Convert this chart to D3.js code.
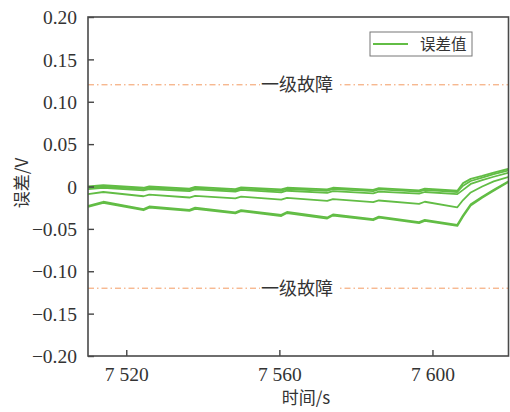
<!DOCTYPE html>
<html>
<head>
<meta charset="utf-8">
<script src="https://cdn.jsdelivr.net/npm/d3@7"></script>
<style>
  body { margin: 0; background: #fff; }
  svg { display: block; }
</style>
</head>
<body>
<div id="chart"></div>
<script>
// Data
const times = [7510, 7514, 7524.5, 7526, 7536.5, 7538, 7548.5, 7550, 7560.5, 7562,
  7572.5, 7574, 7584.5, 7586, 7596.5, 7598, 7606.5, 7608, 7610, 7613, 7616, 7620];

const errA1 = [0.000, 0.0015, -0.0015, 0.000, -0.0025, -0.0005, -0.003, -0.001, -0.0035, -0.0015,
  -0.0035, -0.0015, -0.004, -0.002, -0.0045, -0.0025, -0.005, 0.004, 0.009, 0.0125, 0.0165, 0.021];
const errA2 = [-0.0015, 0.000, -0.003, -0.0015, -0.004, -0.002, -0.0045, -0.0025, -0.005, -0.003,
  -0.005, -0.003, -0.0055, -0.0035, -0.006, -0.004, -0.0065, 0.001, 0.0065, 0.0105, 0.0145, 0.019];
const errB = [-0.003, -0.0015, -0.0045, -0.003, -0.0055, -0.0035, -0.006, -0.004, -0.007, -0.005,
  -0.0075, -0.0055, -0.008, -0.006, -0.0085, -0.0065, -0.009, -0.004, 0.003, 0.0075, 0.0115, 0.0165];
const errC = [-0.009, -0.0065, -0.0115, -0.0095, -0.013, -0.011, -0.014, -0.012, -0.0155, -0.0135,
  -0.017, -0.015, -0.0185, -0.0165, -0.0205, -0.018, -0.0245, -0.016, -0.007, 0.000, 0.006, 0.0115];
const errD1 = [-0.0228, -0.018, -0.0267, -0.0236, -0.0275, -0.025, -0.0305, -0.0278, -0.0335, -0.030,
  -0.0365, -0.033, -0.0385, -0.0355, -0.042, -0.0393, -0.0452, -0.034, -0.021, -0.012, -0.004, 0.0065];
const errD2 = [-0.0240, -0.0193, -0.0280, -0.0249, -0.0288, -0.0263, -0.0318, -0.0291, -0.0348, -0.0313,
  -0.0378, -0.0343, -0.0398, -0.0368, -0.0433, -0.0406, -0.0465, -0.0355, -0.0225, -0.0133, -0.005, 0.0058];

const series = [errA1, errA2, errB, errC, errD1, errD2];

const yTicks = [0.20, 0.15, 0.10, 0.05, 0, -0.05, -0.10, -0.15, -0.20];
const xTicks = [7520, 7560, 7600];
const faultLevels = [0.12, -0.12];
const faultLabel = "一级故障";
const legendLabel = "误差值";

// Layout
const width = 510, height = 412;
const margin = { top: 17, right: 1, bottom: 56, left: 88 };
const green = "#62bd45";
const orange = "#f39a62";
const serif = "'Liberation Serif', 'Times New Roman', serif";
const cjk = "'Noto Sans CJK SC', sans-serif";

const svg = d3.select("#chart")
  .append("svg")
  .attr("width", width)
  .attr("height", height);

const x = d3.scaleLinear()
  .domain([7510, 7620])
  .range([margin.left, width - margin.right]);

const y = d3.scaleLinear()
  .domain([-0.20, 0.20])
  .range([height - margin.bottom, margin.top]);

svg.append("clipPath").attr("id", "plot")
  .append("rect")
  .attr("x", margin.left).attr("y", margin.top)
  .attr("width", x.range()[1] - margin.left)
  .attr("height", y.range()[0] - margin.top);

// Fault threshold lines
faultLevels.forEach(v => {
  svg.append("line")
    .attr("x1", x.range()[0]).attr("x2", x.range()[1])
    .attr("y1", y(v)).attr("y2", y(v))
    .attr("stroke", orange)
    .attr("stroke-width", 1)
    .attr("stroke-dasharray", "6,3,1.5,3");

  svg.append("rect")
    .attr("x", 260).attr("y", y(v) - 9)
    .attr("width", 78).attr("height", 18)
    .attr("fill", "#fff");

  svg.append("text")
    .attr("x", 261).attr("y", y(v))
    .attr("dy", "0.36em")
    .attr("font-family", cjk)
    .attr("font-size", 18)
    .attr("fill", "#333")
    .text(faultLabel);
});

// Error lines
const line = d3.line()
  .x((d, i) => x(times[i]))
  .y(d => y(d));

svg.append("g")
  .attr("clip-path", "url(#plot)")
  .selectAll("path")
  .data(series)
  .join("path")
  .attr("fill", "none")
  .attr("stroke", green)
  .attr("stroke-width", 1.8)
  .attr("stroke-linejoin", "round")
  .attr("d", line);

// Axes with inward ticks
const fmtY = d => d === 0 ? "0" : d3.format(".2f")(d).replace("-", "\u2212");
const fmtX = d => String(d).replace(/^(\d)(\d{3})$/, "$1 $2");

const yAxis = svg.append("g")
  .attr("transform", `translate(${margin.left},0)`)
  .call(d3.axisLeft(y).tickValues(yTicks).tickFormat(fmtY).tickSizeInner(-6).tickSizeOuter(0).tickPadding(11));

const xAxis = svg.append("g")
  .attr("transform", `translate(0,${y.range()[0]})`)
  .call(d3.axisBottom(x).tickValues(xTicks).tickFormat(fmtX).tickSizeInner(-6).tickSizeOuter(0).tickPadding(11));

[yAxis, xAxis].forEach(g => {
  g.select(".domain").remove();
  g.selectAll(".tick line").attr("stroke", "#444").attr("stroke-width", 1.4);
  g.selectAll(".tick text")
    .attr("font-family", serif)
    .attr("font-size", 19.5)
    .attr("fill", "#333");
});
yAxis.selectAll(".tick text").attr("dy", "0.34em");

// Frame
svg.append("rect")
  .attr("x", margin.left).attr("y", margin.top)
  .attr("width", x.range()[1] - margin.left - 0.5)
  .attr("height", y.range()[0] - margin.top)
  .attr("fill", "none")
  .attr("stroke", "#4a4a4a")
  .attr("stroke-width", 1.6);

// Legend
const legend = svg.append("g").attr("transform", "translate(370,32)");
legend.append("rect")
  .attr("width", 102).attr("height", 24)
  .attr("fill", "#fff")
  .attr("stroke", "#777")
  .attr("stroke-width", 1);
legend.append("line")
  .attr("x1", 3).attr("x2", 38)
  .attr("y1", 12).attr("y2", 12)
  .attr("stroke", green)
  .attr("stroke-width", 2.2);
legend.append("text")
  .attr("x", 50).attr("y", 12)
  .attr("dy", "0.36em")
  .attr("font-family", cjk)
  .attr("font-size", 15.5)
  .attr("fill", "#333")
  .text(legendLabel);

// Axis titles
svg.append("text")
  .attr("x", 306).attr("y", 398)
  .attr("dy", "0.36em")
  .attr("text-anchor", "middle")
  .attr("font-family", cjk)
  .attr("font-size", 17)
  .attr("fill", "#333")
  .text("时间/s");

svg.append("text")
  .attr("transform", "translate(22,183) rotate(-90)")
  .attr("dy", "0.36em")
  .attr("text-anchor", "middle")
  .attr("font-family", cjk)
  .attr("font-size", 17)
  .attr("fill", "#333")
  .text("误差/V");
</script>
</body>
</html>
